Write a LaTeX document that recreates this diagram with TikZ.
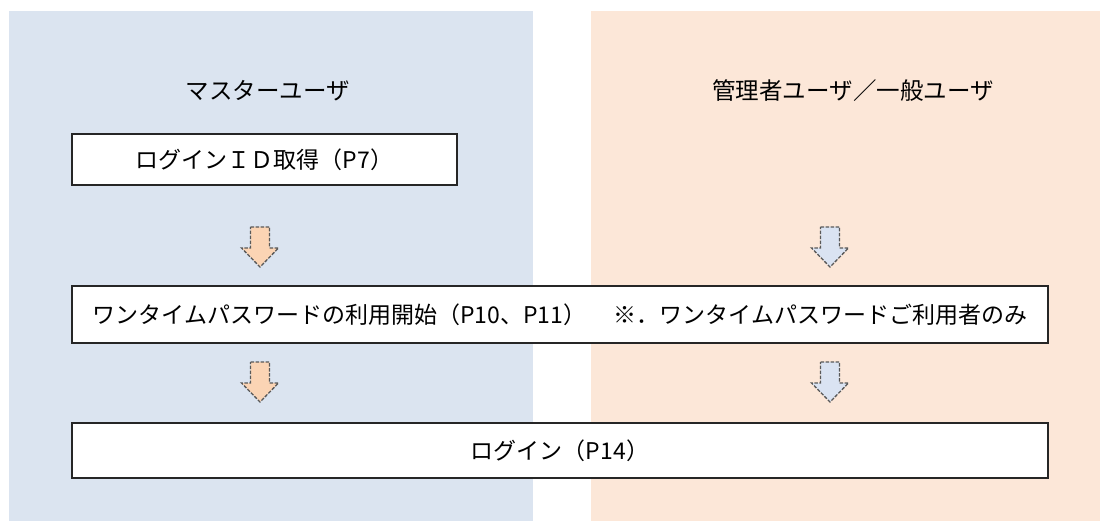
\documentclass[tikz,border=0pt]{standalone}
\usepackage{fontspec}
\setmainfont{Noto Sans CJK JP}
\usepackage{tikz}

\definecolor{paneblue}{RGB}{219,228,240}
\definecolor{paneorange}{RGB}{252,231,216}
\definecolor{arroworange}{RGB}{251,212,180}
\definecolor{arrowblue}{RGB}{218,227,242}

\begin{document}
\begin{tikzpicture}[x=1pt, y=-1pt,
        heading/.style={font=\fontsize{23.5}{28}\selectfont},
        stepbox/.style={draw=black!85, fill=white, line width=1.1pt, inner sep=0pt, font=\fontsize{23}{28}\selectfont}]
                \useasboundingbox (0,0) rectangle (1100,521);
                % two user columns
                \fill[paneblue] (9,11) rectangle (533,521);
                \fill[paneorange] (591,11) rectangle (1100,521);
                \node[heading] (master) at (268,91) {マスターユーザ};
                \node[heading] (others) at (853,91) {管理者ユーザ／一般ユーザ};
                % steps
                \node[stepbox, minimum width=385, minimum height=51] (getid) at (264.5,159.5) {ログインＩＤ取得（P7）};
                \node[stepbox, minimum width=976, minimum height=57] (otp) at (560,314.5) {ワンタイムパスワードの利用開始（P10、P11）\hspace{1.2em}※．ワンタイムパスワードご利用者のみ};
                \node[stepbox, minimum width=976, minimum height=55] (login) at (560,450.5) {ログイン（P14）};
                % block arrows
                \foreach \x/\y/\c in {260/227/arroworange, 830/227/arrowblue, 260/362/arroworange, 830/362/arrowblue}
                    \filldraw[fill=\c, draw=black!65, line width=1.3pt, dash pattern=on 3.5pt off 1.5pt] (\x-9.5,\y) -- (\x+9.5,\y) -- (\x+9.5,\y+21)
                    -- (\x+18.5,\y+21) -- (\x,\y+40) -- (\x-18.5,\y+21) -- (\x-9.5,\y+21) -- cycle;
            \end{tikzpicture}
\end{document}
